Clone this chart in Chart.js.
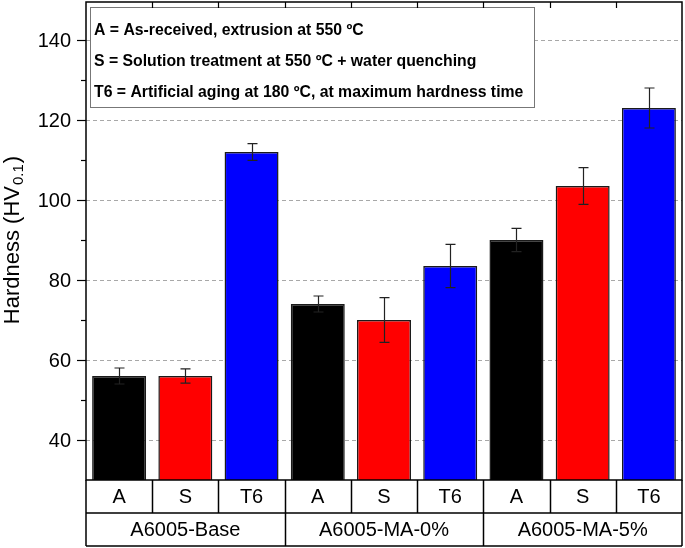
<!DOCTYPE html>
<html>
<head>
<meta charset="utf-8">
<script src="https://cdn.jsdelivr.net/npm/chart.js@4/dist/chart.umd.min.js"></script>
<style>
html,body{margin:0;padding:0;background:#fff;}
#wrap{width:685px;height:548px;position:relative;}
</style>
</head>
<body>
<div id="wrap"><canvas id="c" width="685" height="548"></canvas></div>
<script>
// ---- data ----
const groups = ['A6005-Base', 'A6005-MA-0%', 'A6005-MA-5%'];
const treatments = ['A', 'S', 'T6'];
const hardness = [56, 56, 112, 74, 70, 83.5, 90, 103.5, 123];
const hardnessErr = [2, 1.8, 2.1, 2, 5.6, 5.4, 2.9, 4.6, 5];
const yTicks = [40, 60, 80, 100, 120, 140];
const yMinorTicks = [50, 70, 90, 110, 130];
const legendLines = [
  'A = As-received, extrusion at 550 ºC',
  'S = Solution treatment at 550 ºC + water quenching',
  'T6 = Artificial aging at 180 ºC, at maximum hardness time'
];
const yTitle = 'Hardness (HV';
const yTitleSub = '0.1';

const treatmentColors = {A: '#000000', S: '#ff0000', T6: '#0000ff'};
const labels = [];
groups.forEach(g => treatments.forEach(t => labels.push(t)));
const colors = labels.map(t => treatmentColors[t]);

const FONT = 'Arial, "Liberation Sans", Helvetica, sans-serif';

const decor = {
  id: 'decor',
  beforeDatasetsDraw(chart) {
    const {ctx, chartArea: ca, scales: {y}} = chart;
    ctx.save();
    ctx.strokeStyle = '#a8a8a8';
    ctx.lineWidth = 1;
    ctx.setLineDash([4, 3]);
    yTicks.forEach(v => {
      const py = Math.round(y.getPixelForValue(v)) + 0.5;
      ctx.beginPath(); ctx.moveTo(ca.left, py); ctx.lineTo(ca.right, py); ctx.stroke();
    });
    ctx.restore();
  },
  afterDatasetsDraw(chart) {
    const {ctx, chartArea: ca, scales: {x, y}} = chart;
    const meta = chart.getDatasetMeta(0);
    ctx.save();
    // error bars
    ctx.strokeStyle = '#222';
    ctx.lineWidth = 1.2;
    meta.data.forEach((bar, i) => {
      const cx = Math.round(bar.x) + 0.5;
      const yt = y.getPixelForValue(hardness[i] + hardnessErr[i]);
      const yb = y.getPixelForValue(hardness[i] - hardnessErr[i]);
      ctx.beginPath();
      ctx.moveTo(cx, yt); ctx.lineTo(cx, yb);
      ctx.moveTo(cx - 5, yt); ctx.lineTo(cx + 5, yt);
      ctx.moveTo(cx - 5, yb); ctx.lineTo(cx + 5, yb);
      ctx.stroke();
    });
    ctx.restore();

    // legend box
    ctx.save();
    const bx = 90.5, by = 7.5, bw = 444, bh = 100;
    ctx.fillStyle = '#ffffff';
    ctx.fillRect(bx, by, bw, bh);
    ctx.strokeStyle = '#777';
    ctx.lineWidth = 1;
    ctx.strokeRect(bx, by, bw, bh);
    ctx.fillStyle = '#000';
    ctx.font = 'bold 15.8px ' + FONT;
    ctx.textBaseline = 'middle';
    ctx.textAlign = 'left';
    const ly = [31, 62, 93];
    legendLines.forEach((t, i) => ctx.fillText(t, 94, ly[i]));
    ctx.restore();
  },
  afterDraw(chart) {
    const {ctx, chartArea: ca, scales: {x, y}} = chart;
    ctx.save();
    ctx.strokeStyle = '#000';
    ctx.fillStyle = '#000';
    // frame
    ctx.lineWidth = 1.5;
    ctx.strokeRect(ca.left, ca.top, ca.right - ca.left, ca.bottom - ca.top);
    // y ticks
    ctx.lineWidth = 1.2;
    yTicks.forEach(v => {
      const py = Math.round(y.getPixelForValue(v)) + 0.5;
      ctx.beginPath(); ctx.moveTo(ca.left - 9, py); ctx.lineTo(ca.left, py); ctx.stroke();
    });
    yMinorTicks.forEach(v => {
      const py = Math.round(y.getPixelForValue(v)) + 0.5;
      ctx.beginPath(); ctx.moveTo(ca.left - 5, py); ctx.lineTo(ca.left, py); ctx.stroke();
    });
    // y tick labels
    ctx.font = '20px ' + FONT;
    ctx.textAlign = 'right';
    ctx.textBaseline = 'middle';
    yTicks.forEach(v => {
      ctx.fillText(String(v), 71, y.getPixelForValue(v) + 1);
    });
    // category boundaries
    const n = labels.length;
    const half = (x.getPixelForValue(1) - x.getPixelForValue(0)) / 2;
    const bounds = [];
    for (let i = 0; i <= n; i++) bounds.push(i < n ? x.getPixelForValue(i) - half : x.getPixelForValue(n - 1) + half);
    // top ticks inward
    ctx.lineWidth = 1.2;
    for (let i = 1; i < n; i++) {
      const px = Math.round(bounds[i]) + 0.5;
      ctx.beginPath(); ctx.moveTo(px, ca.top); ctx.lineTo(px, ca.top + 6); ctx.stroke();
    }
    // table
    const r0 = ca.bottom, r1 = 513, r2 = 546;
    ctx.lineWidth = 1.5;
    ctx.beginPath();
    ctx.moveTo(ca.left, r1); ctx.lineTo(ca.right, r1);
    ctx.moveTo(ca.left, r2); ctx.lineTo(ca.right, r2);
    ctx.moveTo(ca.left, r0); ctx.lineTo(ca.left, r2);
    ctx.moveTo(ca.right, r0); ctx.lineTo(ca.right, r2);
    for (let i = 1; i < n; i++) {
      const px = Math.round(bounds[i]) + 0.5;
      ctx.moveTo(px, r0); ctx.lineTo(px, i % 3 === 0 ? r2 : r1);
    }
    ctx.stroke();
    ctx.font = '20px ' + FONT;
    ctx.textAlign = 'center';
    ctx.textBaseline = 'middle';
    labels.forEach((t, i) => ctx.fillText(t, x.getPixelForValue(i), (r0 + r1) / 2 + 1));
    groups.forEach((g, gi) => {
      const cx = (bounds[gi * 3] + bounds[gi * 3 + 3]) / 2;
      ctx.fillText(g, cx, (r1 + r2) / 2 + 1);
    });
    // y title
    ctx.save();
    ctx.translate(13, 240);
    ctx.rotate(-Math.PI / 2);
    ctx.font = '22px ' + FONT;
    const w1 = ctx.measureText(yTitle).width;
    ctx.font = '15px ' + FONT;
    const w2 = ctx.measureText(yTitleSub).width;
    ctx.font = '22px ' + FONT;
    const w3 = ctx.measureText(')').width;
    const total = w1 + w2 + w3 + 2;
    let sx = -total / 2;
    ctx.textAlign = 'left';
    ctx.textBaseline = 'middle';
    ctx.fillText(yTitle, sx, 0);
    ctx.font = '15px ' + FONT;
    ctx.fillText(yTitleSub, sx + w1 + 1, 6);
    ctx.font = '22px ' + FONT;
    ctx.fillText(')', sx + w1 + w2 + 2, 0);
    ctx.restore();
    ctx.restore();
  }
};

new Chart(document.getElementById('c'), {
  type: 'bar',
  data: {
    labels: labels,
    datasets: [{
      data: hardness,
      backgroundColor: colors,
      borderColor: '#1a1a1a',
      borderWidth: 1.5,
      borderSkipped: 'bottom',
      categoryPercentage: 1,
      barPercentage: 0.815
    }]
  },
  options: {
    responsive: false,
    animation: false,
    devicePixelRatio: 1,
    layout: {padding: {top: 2, right: 3, bottom: 68, left: 0}},
    plugins: {legend: {display: false}, tooltip: {enabled: false}},
    scales: {
      x: {display: false, grid: {display: false}},
      y: {
        min: 30, max: 149.5,
        grid: {display: false},
        border: {display: false},
        ticks: {display: false},
        afterFit(scale) { scale.width = 86; }
      }
    }
  },
  plugins: [decor]
});
</script>
</body>
</html>
